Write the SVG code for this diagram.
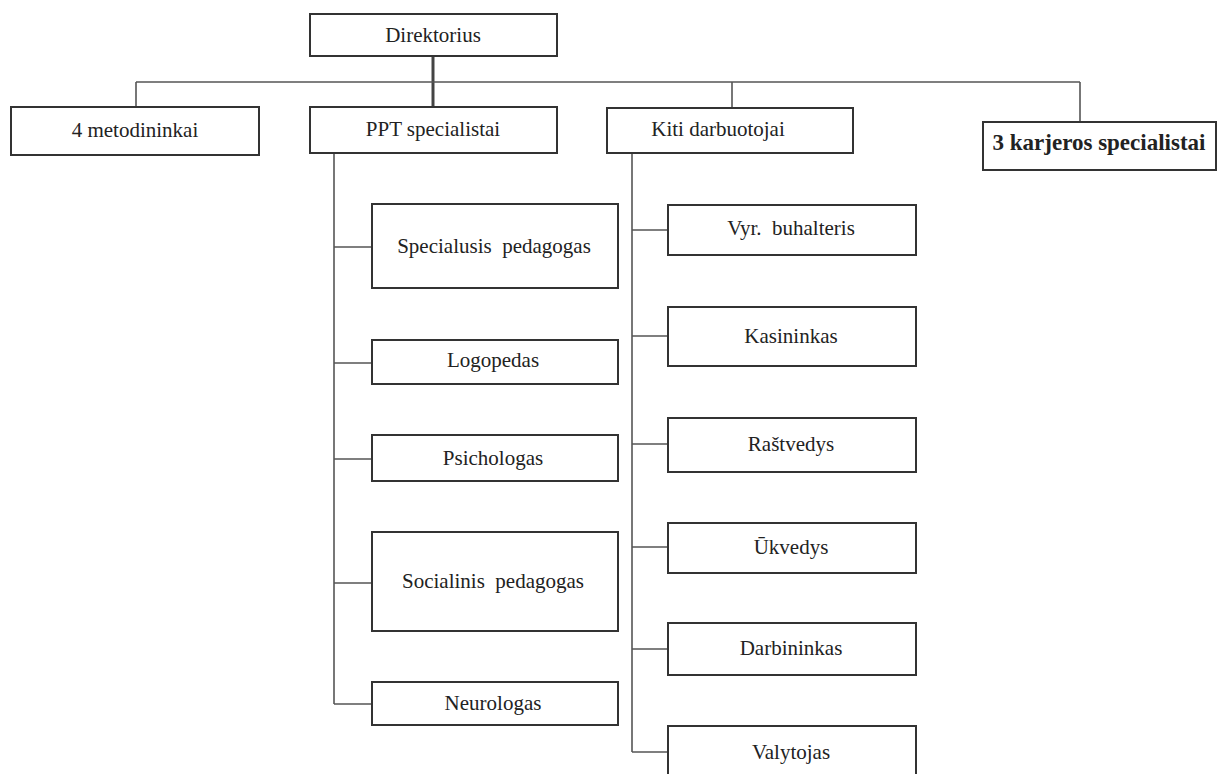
<svg xmlns="http://www.w3.org/2000/svg" width="1222" height="774" viewBox="0 0 1222 774">
<style>
.box{fill:#fff;stroke:#333;stroke-width:2}
text{font-family:'Liberation Serif','Times New Roman','DejaVu Serif',serif;font-size:21px;fill:#222;text-anchor:middle}
.b{font-weight:bold;font-size:23px}
.c{fill:none;stroke:#555;stroke-width:1.6}
</style>
<rect width="1222" height="774" fill="#fff"/>
<g id="connectors">
<line class="c" x1="433" y1="56" x2="433" y2="107" style="stroke-width:3;stroke:#444"/>
<line class="c" x1="136" y1="82" x2="1080" y2="82"/>
<line class="c" x1="136" y1="82" x2="136" y2="107"/>
<line class="c" x1="732" y1="82" x2="732" y2="108"/>
<line class="c" x1="1080" y1="82" x2="1080" y2="122"/>
<line class="c" x1="334" y1="153" x2="334" y2="704"/>
<line class="c" x1="334" y1="247" x2="372" y2="247"/>
<line class="c" x1="334" y1="363" x2="372" y2="363"/>
<line class="c" x1="334" y1="459" x2="372" y2="459"/>
<line class="c" x1="334" y1="583" x2="372" y2="583"/>
<line class="c" x1="334" y1="704" x2="372" y2="704"/>
<line class="c" x1="632" y1="153" x2="632" y2="752"/>
<line class="c" x1="632" y1="230" x2="668" y2="230"/>
<line class="c" x1="632" y1="336" x2="668" y2="336"/>
<line class="c" x1="632" y1="444" x2="668" y2="444"/>
<line class="c" x1="632" y1="547" x2="668" y2="547"/>
<line class="c" x1="632" y1="649" x2="668" y2="649"/>
<line class="c" x1="632" y1="752" x2="668" y2="752"/>
</g>
<g id="direktorius"><rect class="box" x="310" y="14" width="247" height="42"/><text x="433" y="42">Direktorius</text></g>
<g id="metodininkai"><rect class="box" x="11" y="107" width="248" height="48"/><text x="135" y="137">4 metodininkai</text></g>
<g id="ppt"><rect class="box" x="310" y="107" width="247" height="46"/><text x="433" y="136">PPT specialistai</text></g>
<g id="kiti"><rect class="box" x="607" y="108" width="246" height="45"/><text x="718" y="136">Kiti darbuotojai</text></g>
<g id="karjeros"><rect class="box" x="983" y="122" width="233" height="48"/><text class="b" x="1099" y="150">3 karjeros specialistai</text></g>
<g id="specialusis"><rect class="box" x="372" y="204" width="246" height="84"/><text x="494" y="253" xml:space="preserve">Specialusis  pedagogas</text></g>
<g id="logopedas"><rect class="box" x="372" y="340" width="246" height="44"/><text x="493" y="367">Logopedas</text></g>
<g id="psichologas"><rect class="box" x="372" y="435" width="246" height="46"/><text x="493" y="465">Psichologas</text></g>
<g id="socialinis"><rect class="box" x="372" y="532" width="246" height="99"/><text x="493" y="588" xml:space="preserve">Socialinis  pedagogas</text></g>
<g id="neurologas"><rect class="box" x="372" y="682" width="246" height="43"/><text x="493" y="710">Neurologas</text></g>
<g id="buhalteris"><rect class="box" x="668" y="205" width="248" height="50"/><text x="791" y="235" xml:space="preserve">Vyr.  buhalteris</text></g>
<g id="kasininkas"><rect class="box" x="668" y="307" width="248" height="59"/><text x="791" y="343">Kasininkas</text></g>
<g id="rastvedys"><rect class="box" x="668" y="418" width="248" height="54"/><text x="791" y="451">Raštvedys</text></g>
<g id="ukvedys"><rect class="box" x="668" y="523" width="248" height="50"/><text x="791" y="554">Ūkvedys</text></g>
<g id="darbininkas"><rect class="box" x="668" y="623" width="248" height="52"/><text x="791" y="655">Darbininkas</text></g>
<g id="valytojas"><rect class="box" x="668" y="726" width="248" height="60"/><text x="791" y="759">Valytojas</text></g>
</svg>
